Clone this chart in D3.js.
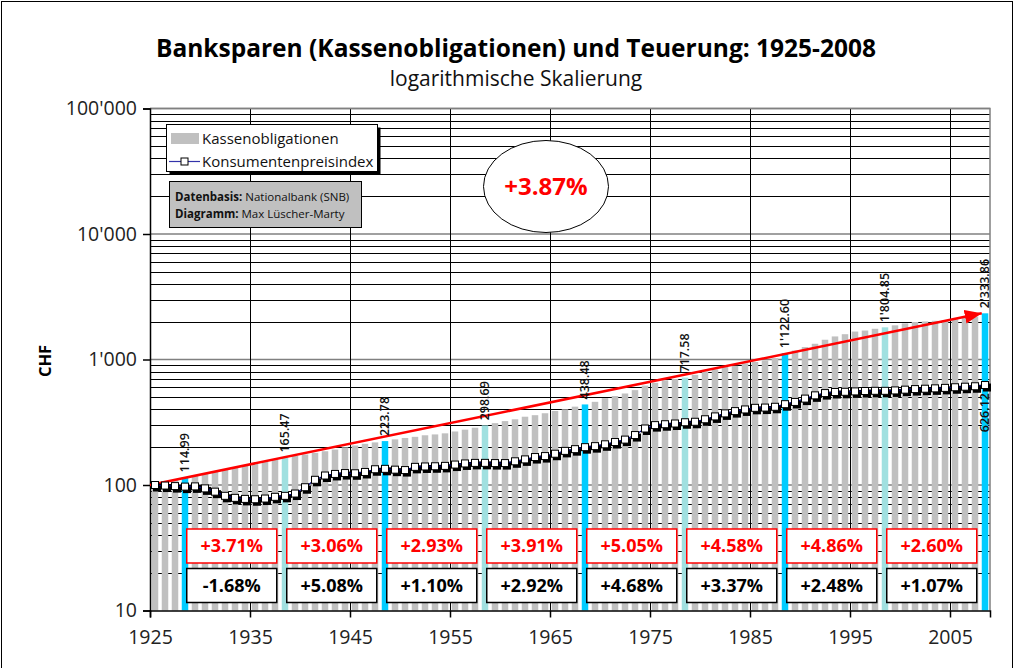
<!doctype html>
<html>
<head>
<meta charset="utf-8">
<style>
    body { margin: 0; background: #fff; }
    svg { display: block; font-family: "Open Sans", "Noto Sans", sans-serif; }
</style>
<script src="https://d3js.org/d3.v7.min.js"></script>
</head>
<body>
<svg width="1016" height="668"></svg>
<script>
// Kassenobligationen: Wert von 100 CHF (1925) mit Zinseszins
var kassenobligationen = [
    100, 104.6, 109.6, 114.99, 119.2, 123.6, 128.3, 133.0, 137.9, 143.2,
    148.6, 154.0, 159.6, 165.47, 170.2, 175.1, 180.4, 185.8, 191.6, 199.5,
    206.5, 213.0, 218.5, 223.78, 231.0, 237.0, 242.0, 249.0, 253.0, 258.0,
    267.0, 276.0, 286.0, 298.69, 311.0, 323.0, 334.0, 350.0, 360.0, 373.0,
    389.0, 401.0, 421.0, 438.48, 460.0, 492.0, 512.0, 536.0, 570.0, 620.0,
    652.0, 683.0, 700.0, 717.58, 755.0, 802.0, 834.0, 870.0, 891.0, 934.0,
    955.0, 983.0, 1026.0, 1122.60, 1179.0, 1257.0, 1335.0, 1437.0, 1527.0, 1591.0,
    1670.0, 1701.0, 1757.0, 1804.85, 1872.0, 1940.0, 1990.0, 2010.0, 2034.0, 2059.0,
    2098.0, 2137.0, 2197.0, 2333.86
];

// Konsumentenpreisindex (1925 = 100)
var konsumentenpreise = [
    100, 99, 98, 97.1, 97.5, 94, 88.5, 82, 79, 77.5,
    77, 78, 80.5, 81.96, 85.5, 96, 110, 119, 122.5, 124.5,
    124, 127, 133.5, 134.5, 132.5, 131.5, 139.5, 140.5, 141, 142,
    145.5, 148.5, 150, 150.1, 149.5, 149.5, 154.5, 160, 167, 170,
    177.5, 187, 193, 200.2, 204, 211, 220, 230, 250, 282,
    300, 305, 309, 316.3, 319, 334, 352, 372, 388, 400,
    412, 414, 420, 440.6, 459, 488, 518, 540, 551, 553,
    557, 561, 563, 562.9, 567, 575, 581, 585, 589, 594,
    601, 607, 612, 626.12
];

var jahre = d3.range(1925, 2009);
var dekadenJahre = [1928, 1938, 1948, 1958, 1968, 1978, 1988, 1998, 2008];
var renditeKO = [3.71, 3.06, 2.93, 3.91, 5.05, 4.58, 4.86, 2.60];
var teuerung = [-1.68, 5.08, 1.10, 2.92, 4.68, 3.37, 2.48, 1.07];
var gesamtRendite = 3.87;
var yTicks = [10, 100, 1000, 10000, 100000];
var xTicks = [1925, 1935, 1945, 1955, 1965, 1975, 1985, 1995, 2005];

var svg = d3.select("svg");
var pLeft = 150, pRight = 990, pTop = 108.5, pBottom = 610.5;

var ch = d3.formatLocale({decimal: ".", thousands: "'", grouping: [3], currency: ["", ""]});
var fmtVal = ch.format(",.2f");
var fmtTick = ch.format(",d");
var fmtPct = function(d) { return (d >= 0 ? "+" : "") + d.toFixed(2) + "%"; };

var x = d3.scaleBand().domain(jahre).range([pLeft, pRight]).paddingInner(0.35).paddingOuter(0.175);
var xYear = d3.scaleLinear().domain([1925, 2009]).range([pLeft, pRight]);
var y = d3.scaleLog().domain([10, 100000]).range([pBottom, pTop]);

svg.append("rect").attr("width", 1016).attr("height", 668).attr("fill", "#fff");
svg.append("rect").attr("x", 1.5).attr("y", 1.5).attr("width", 1011).attr("height", 700)
    .attr("fill", "none").attr("stroke", "#000").attr("stroke-width", 1);

// grid lines
var grid = svg.append("g");
grid.selectAll(".minor")
    .data(y.ticks().filter(function(d) { return yTicks.indexOf(d) < 0; }))
    .enter().append("line")
    .attr("x1", pLeft).attr("x2", pRight)
    .attr("y1", function(d) { return Math.round(y(d)) + 0.5; })
    .attr("y2", function(d) { return Math.round(y(d)) + 0.5; })
    .attr("stroke", "#000").attr("stroke-width", 1);
grid.selectAll(".major")
    .data(yTicks.slice(1))
    .enter().append("line")
    .attr("x1", pLeft).attr("x2", pRight)
    .attr("y1", function(d) { return y(d); })
    .attr("y2", function(d) { return y(d); })
    .attr("stroke", "#808080").attr("stroke-width", 1.5);
grid.selectAll(".vert")
    .data(xTicks.slice(1))
    .enter().append("line")
    .attr("x1", function(d) { return Math.round(xYear(d)) + 0.5; })
    .attr("x2", function(d) { return Math.round(xYear(d)) + 0.5; })
    .attr("y1", pTop).attr("y2", pBottom)
    .attr("stroke", "#000").attr("stroke-width", 1);

// bars
function barColor(d) {
    var i = dekadenJahre.indexOf(d.jahr);
    if (i < 0) return "#c0c0c0";
    return i % 2 === 0 ? "#00ccff" : "#a0e0e0";
}
var barData = jahre.map(function(j, i) { return {jahr: j, ko: kassenobligationen[i], kpi: konsumentenpreise[i]}; });
svg.append("g").selectAll("rect")
    .data(barData)
    .enter().append("rect")
    .attr("x", function(d) { return x(d.jahr); })
    .attr("width", x.bandwidth())
    .attr("y", function(d) { return y(d.ko); })
    .attr("height", function(d) { return pBottom - y(d.ko); })
    .attr("fill", barColor);

// plot frame top/right
svg.append("path")
    .attr("d", "M" + pLeft + "," + pTop + "H" + pRight + "V" + pBottom)
    .attr("fill", "none").attr("stroke", "#808080").attr("stroke-width", 1.5);

// axes
var yAxis = svg.append("g")
    .attr("transform", "translate(" + pLeft + ",0)")
    .call(d3.axisLeft(y).tickValues(yTicks).tickFormat(fmtTick).tickSizeOuter(0).tickSize(7).tickPadding(6));
var xAxis = svg.append("g")
    .attr("transform", "translate(0," + pBottom + ")")
    .call(d3.axisBottom(xYear).tickValues(xTicks).tickFormat(d3.format("d")).tickSizeOuter(0).tickSize(7).tickPadding(13));
[yAxis, xAxis].forEach(function(a) {
    a.select(".domain").attr("stroke", "#000").attr("stroke-width", 1.5);
    a.selectAll(".tick line").attr("stroke", "#000").attr("stroke-width", 1.5);
    a.selectAll("text").attr("font-size", 19.5).attr("fill", "#222")
        .attr("font-family", "'Open Sans', sans-serif");
});

svg.append("text")
    .attr("transform", "translate(51,361) rotate(-90)")
    .attr("text-anchor", "middle")
    .attr("font-size", 16.5).attr("font-weight", "bold")
    .text("CHF");

// red trend arrow
var defs = svg.append("defs");
defs.append("marker").attr("id", "pfeil")
    .attr("markerUnits", "userSpaceOnUse")
    .attr("markerWidth", 18).attr("markerHeight", 14)
    .attr("refX", 17).attr("refY", 7).attr("orient", "auto")
    .append("path").attr("d", "M0,0 L17,7 L0,14 z").attr("fill", "#ff0000");
svg.append("line")
    .attr("x1", xYear(1925)).attr("y1", y(kassenobligationen[0]))
    .attr("x2", x(2008)).attr("y2", y(kassenobligationen[kassenobligationen.length - 1]))
    .attr("stroke", "#ff0000").attr("stroke-width", 2.5)
    .attr("marker-end", "url(#pfeil)");

// CPI line with markers
var cx = function(d) { return x(d.jahr) + x.bandwidth() / 2; };
var kpiLine = d3.line().x(cx).y(function(d) { return y(d.kpi); });
var kpi = svg.append("g");
kpi.selectAll(".shadow")
    .data(barData).enter().append("rect")
    .attr("x", function(d) { return cx(d) - 2; })
    .attr("y", function(d) { return y(d.kpi) - 1.5; })
    .attr("width", 8).attr("height", 8)
    .attr("fill", "#000");
kpi.append("path").datum(barData)
    .attr("d", kpiLine).attr("fill", "none")
    .attr("stroke", "#000080").attr("stroke-width", 1.2);
kpi.selectAll(".mk")
    .data(barData).enter().append("rect")
    .attr("x", function(d) { return cx(d) - 3.5; })
    .attr("y", function(d) { return y(d.kpi) - 3.5; })
    .attr("width", 7).attr("height", 7)
    .attr("fill", "#fff").attr("stroke", "#000").attr("stroke-width", 1);

// value labels above decade bars
var dekaden = barData.filter(function(d) { return dekadenJahre.indexOf(d.jahr) >= 0; });
svg.append("g").selectAll("text")
    .data(dekaden).enter().append("text")
    .attr("transform", function(d) {
        return "translate(" + cx(d) + "," + (y(d.ko) - 5) + ") rotate(-90)";
    })
    .attr("dy", "0.35em")
    .attr("font-size", 12.5).attr("font-weight", 600).attr("fill", "#111")
    .text(function(d) { return fmtVal(d.ko); });

var last = barData[barData.length - 1];
svg.append("text")
    .attr("transform", "translate(" + cx(last) + "," + (y(last.kpi) + 8) + ") rotate(-90)")
    .attr("dy", "0.35em").attr("text-anchor", "end")
    .attr("font-size", 12.5).attr("font-weight", 600).attr("fill", "#111")
    .text(fmtVal(last.kpi));

// rate boxes
var boxes = svg.append("g");
renditeKO.forEach(function(r, i) {
    var bx = x(dekadenJahre[i]) + x.bandwidth() - 1.5;
    var g = boxes.append("g").attr("transform", "translate(" + bx + ",0)");
    g.append("rect").attr("x", 0).attr("y", 529).attr("width", 90).attr("height", 34)
        .attr("fill", "#fff").attr("stroke", "#ff0000").attr("stroke-width", 1.5);
    g.append("text").attr("x", 45).attr("y", 546).attr("dy", "0.35em")
        .attr("text-anchor", "middle").attr("font-size", 18).attr("font-weight", "bold")
        .attr("fill", "#ff0000").text(fmtPct(r));
    g.append("rect").attr("x", 0).attr("y", 568.5).attr("width", 90).attr("height", 34)
        .attr("fill", "#fff").attr("stroke", "#000").attr("stroke-width", 1.5);
    g.append("text").attr("x", 45).attr("y", 585.5).attr("dy", "0.35em")
        .attr("text-anchor", "middle").attr("font-size", 18).attr("font-weight", "bold")
        .attr("fill", "#000").text(fmtPct(teuerung[i]));
});

// legend
var lg = svg.append("g");
lg.append("rect").attr("x", 169.5).attr("y", 127.5).attr("width", 211).attr("height", 47).attr("fill", "#000");
lg.append("rect").attr("x", 166.5).attr("y", 124.5).attr("width", 211).attr("height", 47)
    .attr("fill", "#fff").attr("stroke", "#000").attr("stroke-width", 1);
lg.append("rect").attr("x", 171).attr("y", 133).attr("width", 28).attr("height", 11).attr("fill", "#c0c0c0");
lg.append("text").attr("x", 202).attr("y", 144).attr("font-size", 15).attr("fill", "#111").text("Kassenobligationen");
lg.append("line").attr("x1", 169).attr("x2", 200).attr("y1", 161.5).attr("y2", 161.5)
    .attr("stroke", "#3333aa").attr("stroke-width", 1.2);
lg.append("rect").attr("x", 181).attr("y", 158).attr("width", 7).attr("height", 7)
    .attr("fill", "#fff").attr("stroke", "#000");
lg.append("text").attr("x", 202).attr("y", 166.5).attr("font-size", 15).attr("fill", "#111").text("Konsumentenpreisindex");

// info box
var info = svg.append("g");
info.append("rect").attr("x", 169.5).attr("y", 181.5).attr("width", 192).attr("height", 46)
    .attr("fill", "#c0c0c0").attr("stroke", "#000").attr("stroke-width", 1);
var t1 = info.append("text").attr("x", 175).attr("y", 201).attr("font-size", 11.5).attr("fill", "#111");
t1.append("tspan").attr("font-weight", "bold").text("Datenbasis: ");
t1.append("tspan").text("Nationalbank (SNB)");
var t2 = info.append("text").attr("x", 175).attr("y", 218).attr("font-size", 11.5).attr("fill", "#111");
t2.append("tspan").attr("font-weight", "bold").text("Diagramm: ");
t2.append("tspan").text("Max Lüscher-Marty");

// ellipse with overall return
svg.append("ellipse").attr("cx", 546).attr("cy", 186.5).attr("rx", 62.5).attr("ry", 46)
    .attr("fill", "#fff").attr("stroke", "#000").attr("stroke-width", 1);
svg.append("text").attr("x", 546).attr("y", 186.5).attr("dy", "0.35em")
    .attr("text-anchor", "middle").attr("font-size", 24).attr("font-weight", "bold")
    .attr("fill", "#ff0000").text(fmtPct(gesamtRendite));

// titles
svg.append("text").attr("x", 516).attr("y", 57).attr("text-anchor", "middle")
    .attr("font-size", 24.5).attr("font-weight", "bold").attr("fill", "#000")
    .text("Banksparen (Kassenobligationen) und Teuerung: 1925-2008");
svg.append("text").attr("x", 516).attr("y", 86).attr("text-anchor", "middle")
    .attr("font-size", 21).attr("fill", "#111")
    .text("logarithmische Skalierung");
</script>
</body>
</html>
